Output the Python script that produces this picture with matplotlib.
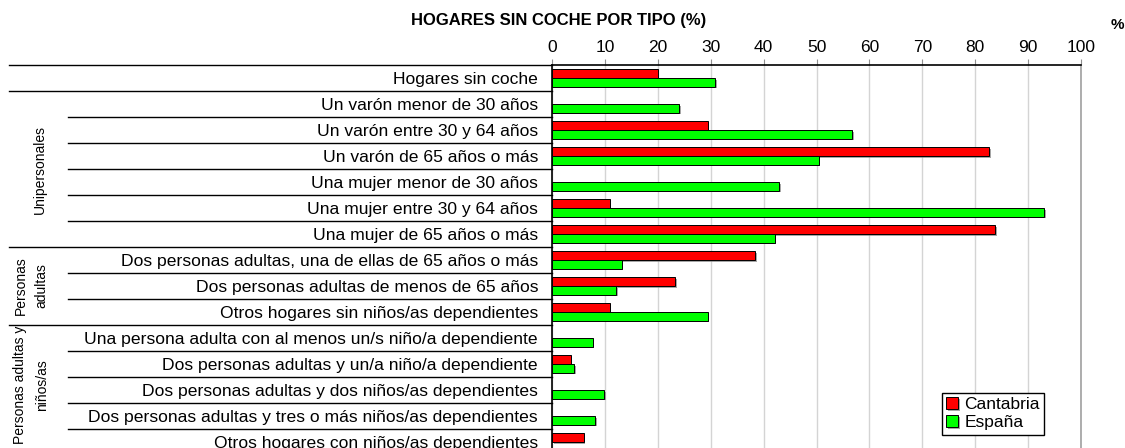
import numpy as np
import matplotlib
matplotlib.use("Agg")
import matplotlib.pyplot as plt
import matplotlib.patheffects as pe
from matplotlib.transforms import blended_transform_factory

plt.rcParams['font.family'] = ['Liberation Sans', 'DejaVu Sans']

nan = np.nan
categorias = [
    "Hogares sin coche",
    "Un varón menor de 30 años",
    "Un varón entre 30 y 64 años",
    "Un varón de 65 años o más",
    "Una mujer menor de 30 años",
    "Una mujer entre 30 y 64 años",
    "Una mujer de 65 años o más",
    "Dos personas adultas, una de ellas de 65 años o más",
    "Dos personas adultas de menos de 65 años",
    "Otros hogares sin niños/as dependientes",
    "Una persona adulta con al menos un/s niño/a dependiente",
    "Dos personas adultas y un/a niño/a dependiente",
    "Dos personas adultas y dos niños/as dependientes",
    "Dos personas adultas y tres o más niños/as dependientes",
    "Otros hogares con niños/as dependientes",
]
cantabria = [20.0, nan, 29.4, 82.7, nan, 10.9, 83.8, 38.4, 23.3, 10.9, nan, 3.5, nan, nan, 6.0]
espana = [30.9, 24.1, 56.8, 50.4, 42.9, 93.0, 42.1, 13.2, 12.1, 29.4, 7.7, 4.2, 9.9, 8.1, nan]
xticks = list(range(0, 101, 10))

# grupos: (texto, fila inicial, fila final)
grupos = [
    ("Unipersonales", 1, 6),
    ("Personas\nadultas", 7, 9),
    ("Personas adultas y\nniños/as", 10, 14),
]

W, H = 1125, 448
fig = plt.figure(figsize=(W / 100, H / 100), dpi=100)
ax = fig.add_axes([552 / W, 1 - 455 / H, 529 / W, 390 / H])

y = np.arange(len(categorias))
h = 0.33
sombra = [pe.SimplePatchShadow(offset=(1.2, -1.2), shadow_rgbFace='#808080', alpha=0.7), pe.Normal()]
b1 = ax.barh(y - h / 2, cantabria, height=h, color='#ff0000', edgecolor='black', linewidth=0.7,
             label='Cantabria', zorder=3)
b2 = ax.barh(y + h / 2, espana, height=h, color='#00ff00', edgecolor='black', linewidth=0.7,
             label='España', zorder=3)
for p in list(b1) + list(b2):
    p.set_path_effects(sombra)

ax.set_xlim(0, 100)
ax.set_ylim(len(categorias) - 0.5, -0.5)
ax.xaxis.tick_top()
ax.set_xticks(xticks)
ax.tick_params(axis='x', length=4, color='#909090', labelsize=12.5, pad=3)
ax.xaxis.grid(True, color='#d4d4d4', linewidth=1, zorder=0)
ax.set_axisbelow(True)

ax.set_yticks(y)
ax.set_yticklabels(categorias, fontsize=12.6)
ax.tick_params(axis='y', length=0, pad=10)

ax.spines['bottom'].set_visible(False)
ax.spines['right'].set_color('#a0a0a0')
ax.spines['right'].set_linewidth(1.2)
ax.spines['left'].set_linewidth(1.2)
ax.spines['top'].set_linewidth(1.2)

# líneas de la tabla a la izquierda
tr = blended_transform_factory(fig.transFigure, ax.transData)
x_eje = 552 / W
limites_grupo = {0, 1, 7, 10}
for k in range(len(categorias)):
    x0 = 9 / W if k in limites_grupo else 68 / W
    ax.plot([x0, x_eje], [k - 0.5, k - 0.5], transform=tr, color='black', lw=1, clip_on=False)

# etiquetas de grupo
for texto, a, b in grupos:
    xc = 40 / W if '\n' not in texto else 31 / W
    yc = (a + b) / 2
    if b == len(categorias) - 1:
        yc -= 0.2
    ax.text(xc, yc, texto, transform=tr, rotation=90, ha='center', va='center',
            fontsize=10, linespacing=1.65, multialignment='center')

fig.text(559 / W, 1 - 20 / H, "HOGARES SIN COCHE POR TIPO (%)", ha='center', va='center',
         fontsize=12, fontweight='bold')
fig.text(1117 / W, 1 - 25 / H, "%", ha='center', va='center', fontsize=11, fontweight='bold')

leg = ax.legend(loc='upper left', bbox_to_anchor=(942 / W, 1 - 393 / H), bbox_transform=fig.transFigure,
                borderaxespad=0, fancybox=False, framealpha=1, edgecolor='black', fontsize=12.5,
                handlelength=0.7, handleheight=0.7, handletextpad=0.35, labelspacing=0.15,
                borderpad=0.25)
leg.get_frame().set_linewidth(1)

fig.savefig("out.png", dpi=100)
